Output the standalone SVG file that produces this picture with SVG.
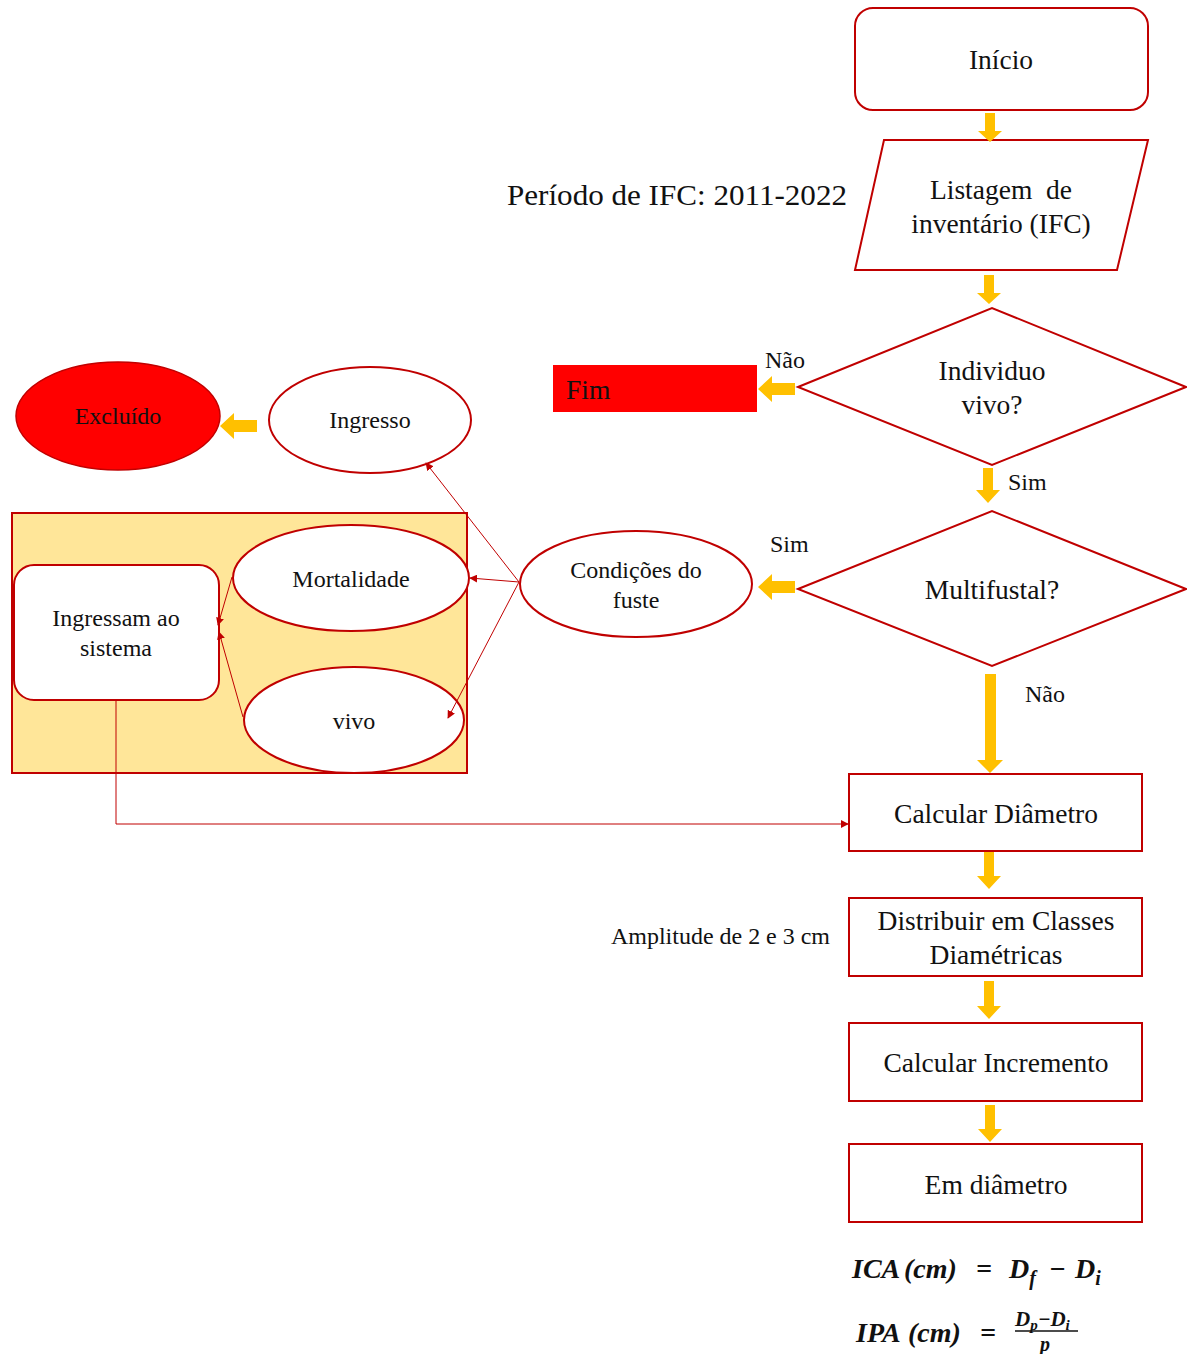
<svg xmlns="http://www.w3.org/2000/svg" width="1187" height="1354" viewBox="0 0 1187 1354">
<style>
text{font-family:"Liberation Serif","Times New Roman",serif;fill:#111;}
.n{fill:#fff;stroke:#C00000;stroke-width:2;}
.c{text-anchor:middle;}
.ya{fill:#FFC000;}
.thin{fill:none;stroke:#C00000;stroke-width:1;}
.m{font-weight:bold;font-style:italic;font-size:28px;}
.big{font-size:27.5px;}
.sm{font-size:24px;}
</style>
<defs>
<marker id="ah" viewBox="0 0 10 10" refX="9" refY="5" markerWidth="8" markerHeight="8" markerUnits="userSpaceOnUse" orient="auto">
<path d="M0,0 L10,5 L0,10 Z" fill="#C00000"/>
</marker>
</defs>
<rect width="1187" height="1354" fill="#fff"/>

<text x="507" y="205" font-size="30" textLength="340" lengthAdjust="spacingAndGlyphs">Período de IFC: 2011-2022</text>
<text x="611" y="944" class="sm" textLength="219" lengthAdjust="spacingAndGlyphs">Amplitude de 2 e 3 cm</text>

<g id="inicio">
<rect class="n" x="855" y="8" width="293" height="102" rx="18"/>
<text class="c big" x="1001" y="69">Início</text>
</g>
<g id="listagem">
<polygon class="n" points="884,140 1148,140 1117,270 855,270"/>
<text class="c big" x="1001" y="199" xml:space="preserve">Listagem  de</text>
<text class="c big" x="1001" y="233">inventário (IFC)</text>
</g>
<g id="individuo">
<polygon class="n" points="798,387 992,308 1186,387 992,465"/>
<text class="c big" x="992" y="380">Individuo</text>
<text class="c big" x="992" y="414">vivo?</text>
</g>
<g id="fim">
<rect x="553" y="365" width="204" height="47" fill="#FF0000"/>
<text x="566" y="399" class="big">Fim</text>
</g>
<g id="multifustal">
<polygon class="n" points="798,589 992,511 1186,589 992,666"/>
<text class="c big" x="992" y="599">Multifustal?</text>
</g>
<g id="condicoes">
<ellipse class="n" cx="636" cy="584" rx="116" ry="53"/>
<text class="c sm" x="636" y="578">Condições do</text>
<text class="c sm" x="636" y="608">fuste</text>
</g>
<g id="excluido">
<ellipse cx="118" cy="416" rx="102" ry="54" fill="#FF0000" stroke="#C00000" stroke-width="1.5"/>
<text class="c sm" x="118" y="424">Excluído</text>
</g>
<g id="ingresso">
<ellipse class="n" cx="370" cy="420" rx="101" ry="53"/>
<text class="c sm" x="370" y="428">Ingresso</text>
</g>
<g id="grupo">
<rect x="12" y="513" width="455" height="260" fill="#FFE699" stroke="#C00000" stroke-width="2"/>
</g>
<g id="ingressam">
<rect class="n" x="14" y="565" width="205" height="135" rx="20"/>
<text class="c sm" x="116" y="626">Ingressam ao</text>
<text class="c sm" x="116" y="656">sistema</text>
</g>
<g id="mortalidade">
<ellipse class="n" cx="351" cy="578" rx="118" ry="53"/>
<text class="c sm" x="351" y="587">Mortalidade</text>
</g>
<g id="vivo">
<ellipse class="n" cx="354" cy="720" rx="110" ry="53"/>
<text class="c sm" x="354" y="729">vivo</text>
</g>
<g id="calcdiam">
<rect class="n" x="849" y="774" width="293" height="77"/>
<text class="c big" x="996" y="823">Calcular Diâmetro</text>
</g>
<g id="distribuir">
<rect class="n" x="849" y="898" width="293" height="78"/>
<text class="c big" x="996" y="930">Distribuir em Classes</text>
<text class="c big" x="996" y="964">Diamétricas</text>
</g>
<g id="calcinc">
<rect class="n" x="849" y="1023" width="293" height="78"/>
<text class="c big" x="996" y="1072">Calcular Incremento</text>
</g>
<g id="emdiam">
<rect class="n" x="849" y="1144" width="293" height="78"/>
<text class="c big" x="996" y="1194">Em diâmetro</text>
</g>

<g id="formulas">
<text y="1278" class="m"><tspan x="852">ICA</tspan><tspan x="904">(cm)</tspan><tspan x="976">=</tspan><tspan x="1009">D</tspan><tspan font-size="20" dy="7">f</tspan><tspan x="1049" dy="-7">−</tspan><tspan x="1075">D</tspan><tspan font-size="20" dy="7">i</tspan></text>
<text y="1342" class="m"><tspan x="856">IPA</tspan><tspan x="908">(cm)</tspan><tspan x="980">=</tspan></text>
<text x="1015" y="1326" font-weight="bold" font-style="italic" font-size="21">D<tspan font-size="15" dy="4">p</tspan><tspan dy="-4">−D</tspan><tspan font-size="15" dy="4">i</tspan></text>
<line x1="1015" y1="1331" x2="1078" y2="1331" stroke="#111" stroke-width="1.5"/>
<text x="1040" y="1351" font-weight="bold" font-style="italic" font-size="20">p</text>
</g>

<g id="connectors">
<path class="ya" d="M985,113 H995 V131 H1002 L990,142 L978,131 H985 Z"/>
<path class="ya" d="M984,275 H994 V293 H1001 L989,304 L977,293 H984 Z"/>
<path class="ya" d="M795,383 V395 H772 V402 L758,389 L772,376 V383 Z"/>
<path class="ya" d="M983,468 H993 V490 H1000 L988,503 L976,490 H983 Z"/>
<path class="ya" d="M795,581 V593 H772 V600 L758,587 L772,574 V581 Z"/>
<path class="ya" d="M985,674 H996 V760 H1003 L990,773 L977,760 H985 Z"/>
<path class="ya" d="M984,852 H994 V876 H1001 L989,889 L977,876 H984 Z"/>
<path class="ya" d="M984,981 H994 V1006 H1001 L989,1019 L977,1006 H984 Z"/>
<path class="ya" d="M985,1105 H995 V1129 H1002 L990,1142 L978,1129 H985 Z"/>
<path class="ya" d="M257,420 V432 H234 V439 L220,426 L234,413 V420 Z"/>
<line class="thin" x1="519" y1="582" x2="426" y2="463" marker-end="url(#ah)"/>
<line class="thin" x1="519" y1="582" x2="470" y2="578" marker-end="url(#ah)"/>
<line class="thin" x1="519" y1="582" x2="448" y2="718" marker-end="url(#ah)"/>
<line class="thin" x1="232" y1="577" x2="218" y2="625" marker-end="url(#ah)"/>
<line class="thin" x1="243" y1="717" x2="219" y2="632" marker-end="url(#ah)"/>
<polyline class="thin" points="116,700 116,824 848,824" marker-end="url(#ah)"/>
</g>

<text x="765" y="368" class="sm">Não</text>
<text x="1008" y="490" class="sm">Sim</text>
<text x="770" y="552" class="sm">Sim</text>
<text x="1025" y="702" class="sm">Não</text>
</svg>
